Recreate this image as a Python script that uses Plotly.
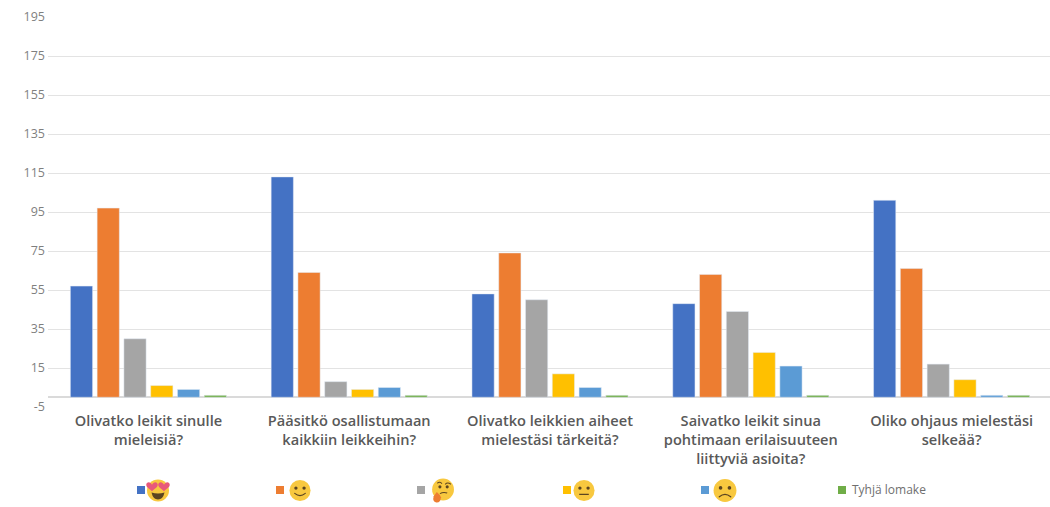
import base64
import plotly.graph_objects as go

categories = [
    "Olivatko leikit sinulle<br>mieleisiä?",
    "Pääsitkö osallistumaan<br>kaikkiin leikkeihin?",
    "Olivatko leikkien aiheet<br>mielestäsi tärkeitä?",
    "Saivatko leikit sinua<br>pohtimaan erilaisuuteen<br>liittyviä asioita?",
    "Oliko ohjaus mielestäsi<br>selkeää?",
]
love = [57, 113, 53, 48, 101]
smile = [97, 64, 74, 63, 66]
think = [30, 8, 50, 44, 17]
neutral = [6, 4, 12, 23, 9]
sad = [4, 5, 5, 16, 1]
empty = [1, 1, 1, 1, 1]

names = ["😍", "🙂", "🤔", "😐", "🙁", "Tyhjä lomake"]
colors = ["#4472C4", "#ED7D31", "#A5A5A5", "#FFC000", "#5B9BD5", "#70AD47"]
series = [love, smile, think, neutral, sad, empty]

tick_vals = [-5, 15, 35, 55, 75, 95, 115, 135, 155, 175, 195]
tick_text = ["-5", "15", "35", "55", "75", "95", "115", "135", "155", "175", "195"]

FACE = '<circle cx="50" cy="50" r="44" fill="#F8C83F"/>'
EYES = '<circle cx="33" cy="40" r="7" fill="#5C4520"/><circle cx="67" cy="40" r="7" fill="#5C4520"/>'
HEART = '<path transform="translate({x},{y}) scale({s})" d="M0,8 C-4,-4 -20,-4 -20,8 C-20,18 -6,24 0,30 C6,24 20,18 20,8 C20,-4 4,-4 0,8Z" fill="#E8587A"/>'
emoji_svgs = [
    FACE + '<path d="M24,58 Q50,66 76,58 Q70,86 50,86 Q30,86 24,58Z" fill="#5C4520"/>'
    + HEART.format(x=26, y=18, s=1.15) + HEART.format(x=74, y=18, s=1.15),
    FACE + EYES + '<path d="M28,62 Q50,80 72,62" fill="none" stroke="#5C4520" stroke-width="5" stroke-linecap="round"/>',
    '<circle cx="54" cy="46" r="42" fill="#F8C83F"/>'
    '<path d="M32,22 Q42,14 50,24 M62,26 Q72,16 84,26" fill="none" stroke="#5C4520" stroke-width="4"/>'
    '<circle cx="42" cy="36" r="6" fill="#5C4520"/><circle cx="70" cy="36" r="6" fill="#5C4520"/>'
    '<path d="M42,62 Q56,54 70,60" fill="none" stroke="#5C4520" stroke-width="4"/>'
    '<path d="M30,56 Q42,66 46,76 Q44,98 28,96 Q12,92 18,72Z" fill="#ED7D31"/>',
    FACE + EYES + '<path d="M30,66 H70" stroke="#5C4520" stroke-width="5"/>',
    FACE + EYES + '<path d="M28,74 Q50,56 72,74" fill="none" stroke="#5C4520" stroke-width="5" stroke-linecap="round"/>',
]


def svg_uri(body):
    svg = f'<svg xmlns="http://www.w3.org/2000/svg" viewBox="0 0 100 100">{body}</svg>'
    return "data:image/svg+xml;base64," + base64.b64encode(svg.encode()).decode()


W, H = 1050, 507
fig = go.Figure()
for name, color, values in zip(names, colors, series):
    fig.add_bar(x=categories, y=values, name=name, marker_color=color, showlegend=False)

legend_x = [141, 280, 421, 567, 705, 842]
emoji_x = [158, 300, 442, 584, 725]
emoji_size = [25, 24, 26, 24, 26]
shapes, images = [], []
for lx, c in zip(legend_x, colors):
    shapes.append(dict(type="rect", xref="paper", yref="paper", layer="above",
                       x0=(lx - 48 - 4) / (W - 48), x1=(lx - 48 + 4) / (W - 48),
                       y0=(407 - 494) / 390, y1=(407 - 486) / 390, fillcolor=c, line_width=0))
for ex, sz, body in zip(emoji_x, emoji_size, emoji_svgs):
    images.append(dict(source=svg_uri(body), xref="paper", yref="paper", xanchor="center", yanchor="middle",
                       x=(ex - 48) / (W - 48), y=(407 - 490.5) / 390, sizex=sz / (W - 48), sizey=sz / 390,
                       sizing="contain", layer="above"))

fig.update_layout(
    width=W, height=H, autosize=False,
    margin=dict(l=48, r=0, t=17, b=100),
    paper_bgcolor="white", plot_bgcolor="white",
    barmode="group", bargap=0.2, bargroupgap=0.17,
    showlegend=False, shapes=shapes, images=images,
    font=dict(family="Open Sans", color="#595959"),
    annotations=[dict(text="Tyhjä lomake", xref="paper", yref="paper", xanchor="left", yanchor="middle",
                      x=(850 - 48) / (W - 48), y=(407 - 489.5) / 390, showarrow=False,
                      font=dict(size=12, color="#6f6f6f"))],
    xaxis=dict(type="category", range=[-0.5, 4.49], showgrid=False, showline=False, ticks="",
               tickangle=0, ticklabelstandoff=3,
               tickfont=dict(family="Open Sans", size=14.6, color="#595959", weight=600)),
    yaxis=dict(range=[-5, 195], tickmode="array", tickvals=tick_vals, ticktext=tick_text,
               showgrid=True, gridcolor="#E3E3E3",
               gridwidth=1, zeroline=True, zerolinecolor="#DADADA", zerolinewidth=1.5, showline=False,
               ticks="", tickfont=dict(family="Open Sans", size=12.5, color="#7F7F7F"), ticklabelstandoff=2),
)
fig.write_html("out.html", config=dict(displayModeBar=False), post_script="document.body.style.margin='0';")
